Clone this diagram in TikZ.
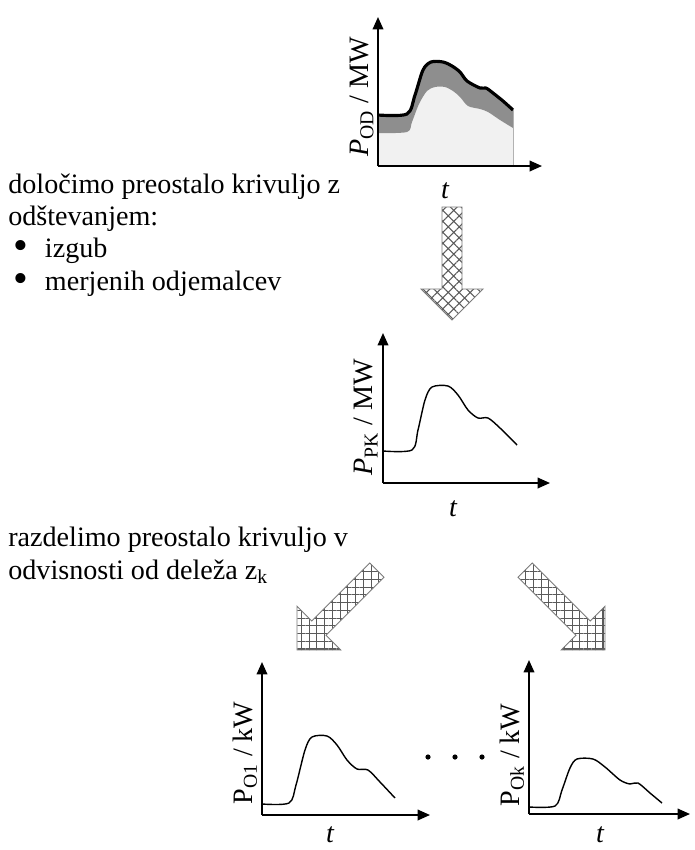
\documentclass[tikz,border=0pt]{standalone}
\usepackage{fontspec}
\setmainfont{Liberation Serif}
\usetikzlibrary{arrows.meta, patterns.meta, positioning}
\definecolor{hatchgray}{HTML}{5A5A5A}
\definecolor{lowgray}{HTML}{F1F1F1}
\definecolor{bandgray}{HTML}{8E8E8E}
\newcommand{\bigbullet}{\makebox[18pt][l]{\smash{\raisebox{-0.1em}{\scalebox{1.5}{\textbullet}}}}}
\tikzset{
  txt/.style={anchor=base west, inner sep=0pt},
  ylab/.style={rotate=90, inner sep=0pt},
  tlab/.style={inner sep=0pt, font=\fontsize{16}{18}\selectfont\itshape},
  axis/.style={line width=1pt, -{Triangle[length=7pt, width=6pt]}},
  curve/.style={line width=0.8pt, line join=round},
  hatcharrow/.style={draw=hatchgray!80, line width=0.5pt, pattern color=hatchgray,
                     pattern={Hatch[angle=#1, distance=4.4pt, line width=0.6pt]}},
}

\begin{document}
\begin{tikzpicture}[x=0.02cm, y=-0.02cm, every node/.style={font=\fontsize{16}{18}\selectfont}]
  \useasboundingbox (0,0) rectangle (695,850);

  % first step text
  \node[txt] (d1) at (8,193) {določimo preostalo krivuljo z};
  \node[txt] (d2) at (8,225) {odštevanjem:};
  \node[txt] (d3) at (13,257) {\bigbullet izgub};
  \node[txt] (d4) at (13,290) {\bigbullet merjenih odjemalcev};

  % second step text
  \node[txt] (r1) at (8,546) {razdelimo preostalo krivuljo v};
  \node[txt] (r2) at (8,579) {odvisnosti od deleža z\textsubscript{k}};

  % chart 1: P_OD
  \fill[lowgray] (378,166) -- plot[smooth, tension=0.5] coordinates {(378,133) (407,132) (412,122) (419,104) (427,91) (435,87) (445,87) (453,91) (460,97) (468,106) (480,109) (488,112) (500,120) (513,128)} -- (513,166) -- cycle;
  \fill[bandgray] plot[smooth, tension=0.5] coordinates {(378,115) (407,114) (415,95) (423,70) (431,62) (443,62) (452,66) (460,72) (467,81) (480,88) (486,88) (493,93) (503,101) (513,110)}
    -- plot[smooth, tension=0.5] coordinates {(513,128) (500,120) (488,112) (480,109) (468,106) (460,97) (453,91) (445,87) (435,87) (427,91) (419,104) (412,122) (407,132) (378,133)} -- cycle;
  \draw[line width=1.8pt, line join=round] plot[smooth, tension=0.5] coordinates {(378,115) (407,114) (415,95) (423,70) (431,62) (443,62) (452,66) (460,72) (467,81) (480,88) (486,88) (493,93) (503,101) (513,110)};
  \draw[gray!60, line width=0.4pt] (513,110) -- (513,166);
  \draw[axis] (378,166) -- (378,17);
  \draw[axis] (378,166) -- (542,166);
  \node[ylab] (ya) at (362,97) {\textit{P}\textsubscript{OD} / MW};
  \node[tlab] (ta) at (445,191) {t};

  % down arrow
  \draw[hatcharrow=45, shift={(452,320)}]
    (-10,-113) -- (10,-113) -- (10,-31) -- (31,-31) -- (0,0) -- (-31,-31) -- (-10,-31) -- cycle;

  % chart 2: P_PK
  \draw[curve] plot[smooth, tension=0.5] coordinates {(383,451) (412,450) (418,430) (425,400) (432,387) (448,386) (458,395) (468,410) (478,418) (488,418) (500,428) (517,445)};
  \draw[axis] (383,483) -- (383,333);
  \draw[axis] (383,483) -- (550,483);
  \node[ylab] (yb) at (366,417) {\textit{P}\textsubscript{PK} / MW};
  \node[tlab] (tb) at (453,509) {t};

  % split arrows
  \draw[hatcharrow=0, shift={(297,650)}, rotate=-45]
    (-10,-113) -- (10,-113) -- (10,-31) -- (31,-31) -- (0,0) -- (-31,-31) -- (-10,-31) -- cycle;
  \draw[hatcharrow=0, shift={(605,650)}, rotate=45]
    (-10,-113) -- (10,-113) -- (10,-31) -- (31,-31) -- (0,0) -- (-31,-31) -- (-10,-31) -- cycle;

  % chart 3: P_O1
  \draw[curve] plot[smooth, tension=0.5] coordinates {(262,804) (289,803) (296,785) (305,750) (312,737) (327,736) (337,745) (347,760) (357,769) (368,770) (380,782) (395,798)};
  \draw[axis] (262,815) -- (262,662);
  \draw[axis] (262,815) -- (430,815);
  \node[ylab] (yc) at (245,753) {P\textsubscript{O1} / kW};
  \node[tlab] (tc) at (330,835) {t};

  % dots between
  \foreach \dx in {428,455,482}
    \fill (\dx,757) circle (2.6);

  % chart 4: P_Ok
  \draw[curve] plot[smooth, tension=0.5] coordinates {(529,807) (555,806) (562,790) (570,768) (577,759) (593,759) (605,767) (620,780) (630,784) (638,783) (650,793) (662,803)};
  \draw[axis] (529,814) -- (529,660);
  \draw[axis] (529,814) -- (690,814);
  \node[ylab] (yd) at (512,755) {P\textsubscript{Ok} / kW};
  \node[tlab] (td) at (600,835) {t};
\end{tikzpicture}
\end{document}
